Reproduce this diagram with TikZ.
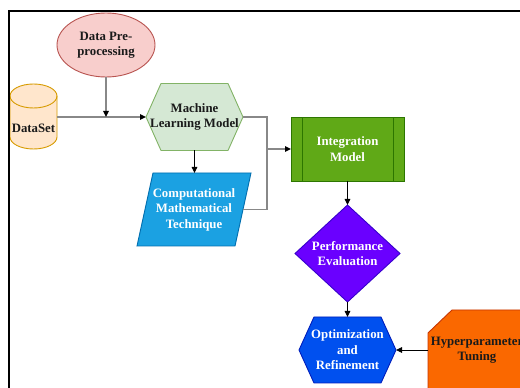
\documentclass[tikz,border=0pt]{standalone}
\usepackage{fontspec}
\setmainfont{Liberation Serif}
\usetikzlibrary{arrows.meta,shapes.geometric}
\pgfdeclarelayer{background}
\pgfsetlayers{background,main}

\definecolor{preFill}{HTML}{F8CECC}\definecolor{preLine}{HTML}{B85450}
\definecolor{dataFill}{HTML}{FFE6CC}\definecolor{dataLine}{HTML}{D79B00}
\definecolor{mlFill}{HTML}{D5E8D4}\definecolor{mlLine}{HTML}{82B366}
\definecolor{compFill}{HTML}{1BA1E2}\definecolor{compLine}{HTML}{006EAF}
\definecolor{intFill}{HTML}{60A917}\definecolor{intLine}{HTML}{2D7600}
\definecolor{perfFill}{HTML}{6A00FF}\definecolor{perfLine}{HTML}{3700CC}
\definecolor{optFill}{HTML}{0050EF}\definecolor{optLine}{HTML}{001DBC}
\definecolor{hypFill}{HTML}{FA6800}\definecolor{hypLine}{HTML}{C73500}
\definecolor{wiregray}{HTML}{888888}
\definecolor{ink}{HTML}{1A1A1A}

\begin{document}
\begin{tikzpicture}[x=1pt,y=1pt,
  box/.style={inner sep=0pt, outer sep=0pt, align=center, text=ink,
    font=\fontsize{12.8}{15.5}\selectfont\bfseries},
  outline/.style={line width=0.9pt},
  wire/.style={draw=wiregray, line width=1.6pt},
  tipped/.style={-{Triangle[length=6pt,width=5.5pt,color=black]}},
  link/.style={draw=black, line width=0.9pt, -{Triangle[length=6pt,width=5.5pt]}}
]
\useasboundingbox (0,0) rectangle (520,388);
\clip (0,0) rectangle (520,388);

% frame
\draw[line width=2pt] (8.5,-5) -- (8.5,377) -- (525,377);

% nodes
\node[box, ellipse, fill=preFill, draw=preLine, outline,
      minimum width=98pt, minimum height=64pt] (pre) at (106,343) {Data Pre-\\processing};
\node[box, minimum width=47pt, minimum height=65pt] (data) at (33.5,271) {};
\node[box] (datalabel) at (33.5,260) {DataSet};
\node[box, minimum width=97pt, minimum height=67pt] (ml) at (194.5,271) {Machine\\Learning Model};
\node[box, text=white, minimum width=114pt, minimum height=73pt] (comp) at (194,178.5)
      {Computational\\Mathematical\\Technique};
\node[box, text=white, minimum width=113pt, minimum height=64pt] (int) at (347.5,239) {Integration\\Model};
\node[box, text=white, minimum width=105pt, minimum height=97pt] (perf) at (347.5,134.5)
      {Performance\\Evaluation};
\node[box, text=white, minimum width=97pt, minimum height=66pt] (opt) at (347.5,38)
      {Optimization\\and\\Refinement};
\node[box, minimum width=98pt, minimum height=80pt] (hyper) at (477,38) {Hyperparameter\\Tuning};

% shape outlines behind the labels
\begin{pgfonlayer}{background}
  \fill[white] (0,0) rectangle (520,388);
  % data store cylinder
  \filldraw[fill=dataFill, draw=dataLine, outline]
    (10,292) -- (10,251) arc[start angle=180, end angle=360, x radius=23.5, y radius=12]
    -- (57,292) arc[start angle=0, end angle=180, x radius=23.5, y radius=12] -- cycle;
  \draw[dataLine, outline] (10,292) arc[start angle=180, end angle=360, x radius=23.5, y radius=12];
  % hexagon
  \filldraw[fill=mlFill, draw=mlLine, outline]
    (ml.west) -- ([xshift=15pt]ml.north west) -- ([xshift=-15pt]ml.north east) -- (ml.east)
    -- ([xshift=-15pt]ml.south east) -- ([xshift=15pt]ml.south west) -- cycle;
  % parallelogram
  \filldraw[fill=compFill, draw=compLine, outline]
    ([xshift=16pt]comp.north west) -- (comp.north east) -- ([xshift=-16pt]comp.south east)
    -- (comp.south west) -- cycle;
  % predefined process
  \filldraw[fill=intFill, draw=intLine, outline] (int.south west) rectangle (int.north east);
  \draw[intLine, outline] ([xshift=11pt]int.south west) -- ([xshift=11pt]int.north west)
    ([xshift=-11pt]int.south east) -- ([xshift=-11pt]int.north east);
  % decision
  \filldraw[fill=perfFill, draw=perfLine, outline]
    (perf.north) -- (perf.east) -- (perf.south) -- (perf.west) -- cycle;
  % hexagon
  \filldraw[fill=optFill, draw=optLine, outline]
    (opt.west) -- ([xshift=15pt]opt.north west) -- ([xshift=-15pt]opt.north east) -- (opt.east)
    -- ([xshift=-15pt]opt.south east) -- ([xshift=15pt]opt.south west) -- cycle;
  % card
  \filldraw[fill=hypFill, draw=hypLine, outline]
    ([yshift=-23pt]hyper.north west) -- ([xshift=24pt]hyper.north west) -- (hyper.north east)
    -- (hyper.south east) -- (hyper.south west) -- cycle;
\end{pgfonlayer}

% connectors
\coordinate (j1) at (pre.south |- ml.west);
\coordinate (jx) at (267,239);
\draw[wire, tipped] (data.east) -- (ml.west);
\draw[wire, tipped] (pre.south) -- (j1);
\draw[wire] (ml.east) -| (jx);
\draw[wire] ([xshift=-8pt]comp.east) -| (jx);
\draw[wire, tipped] (jx) -- (int.west);
\draw[link] (ml.south) -- (ml.south |- comp.north);
\draw[link] (int.south) -- (perf.north);
\draw[link] (perf.south) -- (opt.north);
\draw[link] (hyper.west) -- (opt.east);
\end{tikzpicture}
\end{document}
